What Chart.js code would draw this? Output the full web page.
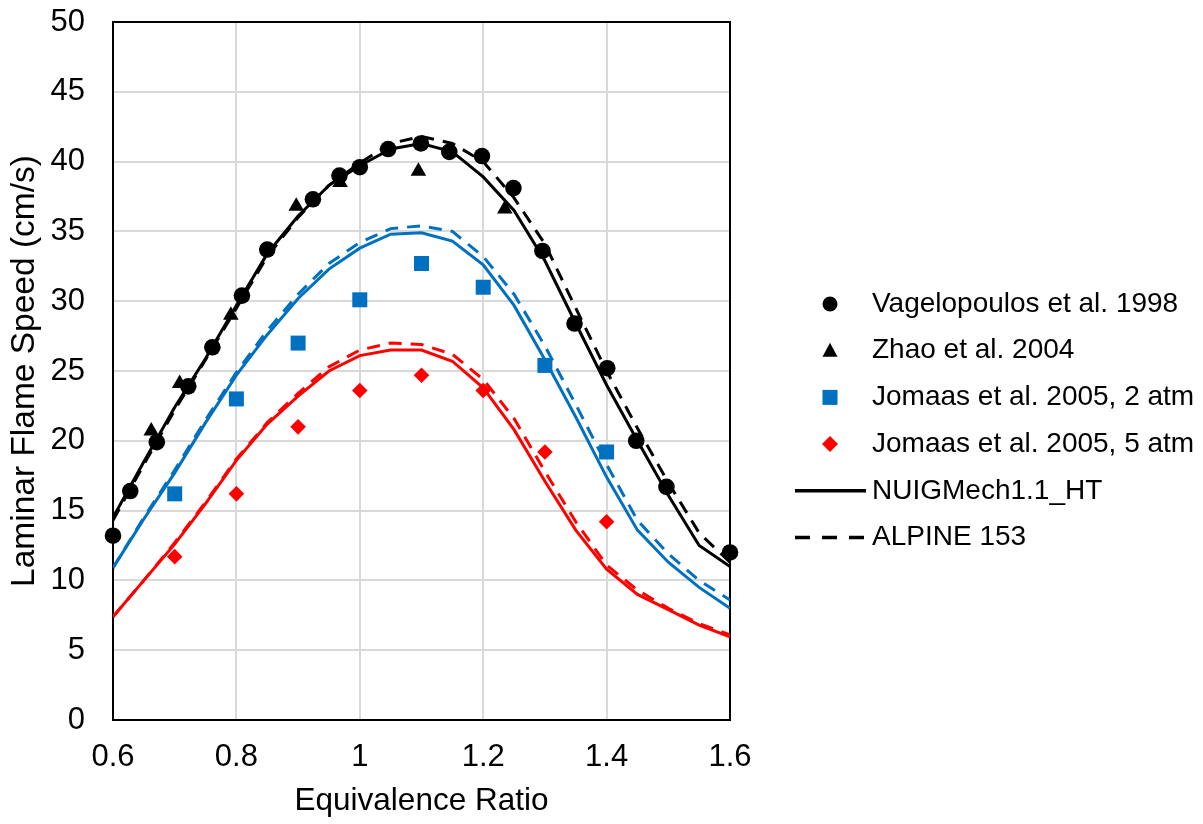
<!DOCTYPE html>
<html>
<head>
<meta charset="utf-8">
<script src="https://cdn.jsdelivr.net/npm/chart.js@4.4.1/dist/chart.umd.min.js"></script>
<style>
  html, body { margin: 0; padding: 0; background: #fff; }
  #wrap { width: 1203px; height: 824px; }
</style>
</head>
<body>
<div id="wrap"><canvas id="flameChart" width="1203" height="824"></canvas></div>
<script>
// Model grid (equivalence ratio)
const phiModel = [0.6, 0.65, 0.7, 0.75, 0.8, 0.85, 0.9, 0.95, 1.0, 1.05, 1.1,
                  1.15, 1.2, 1.25, 1.3, 1.35, 1.4, 1.45, 1.5, 1.55, 1.6];

// Model predictions (cm/s)
const nuig1atm   = [14.5, 18.5, 22.4, 25.9, 29.7, 33.4, 36.1, 38.3, 39.7, 40.9, 41.3,
                    40.7, 38.9, 36.5, 32.9, 28.4, 24.0, 20.0, 16.1, 12.5, 11.0];
const alpine1atm = [14.3, 18.3, 22.2, 25.8, 29.5, 33.2, 36.0, 38.3, 39.9, 41.3, 41.8,
                    41.3, 40.0, 37.4, 34.1, 29.5, 25.0, 20.9, 17.0, 13.4, 11.3];
const nuig2atm   = [10.9, 14.4, 17.7, 21.3, 24.7, 27.6, 30.2, 32.3, 33.8, 34.8, 34.9,
                    34.3, 32.6, 29.7, 25.8, 21.7, 17.4, 13.6, 11.3, 9.5, 8.0];
const alpine2atm = [10.9, 14.5, 17.9, 21.5, 24.9, 27.9, 30.5, 32.7, 34.2, 35.2, 35.4,
                    35.0, 33.2, 30.5, 26.8, 22.6, 18.3, 14.3, 11.9, 10.0, 8.6];
const nuig5atm   = [7.4, 10.0, 12.6, 15.5, 18.6, 21.2, 23.2, 25.0, 26.1, 26.5, 26.5,
                    25.7, 23.8, 20.8, 17.1, 13.6, 10.8, 9.0, 7.9, 6.8, 5.95];
const alpine5atm = [7.4, 10.0, 12.7, 15.6, 18.7, 21.3, 23.4, 25.3, 26.5, 27.0, 26.9,
                    26.2, 24.4, 21.6, 17.8, 14.2, 11.1, 9.3, 8.0, 6.9, 6.1];

// Experiments
const vagPhi = [0.6, 0.628, 0.671, 0.722, 0.761, 0.809, 0.85, 0.924, 0.967, 1.0, 1.046,
                1.099, 1.145, 1.198, 1.249, 1.296, 1.348, 1.401, 1.448, 1.497, 1.6];
const vagSl  = [13.2, 16.4, 19.9, 23.9, 26.7, 30.4, 33.7, 37.3, 39.0, 39.6, 40.9,
                41.3, 40.7, 40.4, 38.1, 33.6, 28.4, 25.2, 20.0, 16.7, 12.0];
const zhaoPhi = [0.662, 0.708, 0.791, 0.897, 0.968, 1.095, 1.235];
const zhaoSl  = [20.7, 24.1, 29.0, 36.8, 38.5, 39.3, 36.6];
const jom2Phi = [0.7, 0.8, 0.9, 1.0, 1.1, 1.2, 1.3, 1.4];
const jom2Sl  = [16.2, 23.0, 27.0, 30.1, 32.7, 31.0, 25.4, 19.2];
const jom5Phi = [0.7, 0.8, 0.9, 1.0, 1.1, 1.2, 1.3, 1.4];
const jom5Sl  = [11.7, 16.2, 21.0, 23.6, 24.7, 23.6, 19.2, 14.2];

const xTicksMin = 0.6, xTicksMax = 1.6, xStep = 0.2;
const yTicksMin = 0, yTicksMax = 50, yStep = 5;

const BLACK = '#000000', BLUE = '#0070c0', RED = '#ff0000';
const FONT = '"Liberation Sans", Arial, Helvetica, sans-serif';
const DASH = [13, 9];

function pts(xs, ys) { return xs.map((x, i) => ({ x: x, y: ys[i] })); }

function markerSet(label, xs, ys, style, color, r) {
  return {
    type: 'scatter', label: label, data: pts(xs, ys),
    pointStyle: style, pointRadius: r, pointHoverRadius: r,
    backgroundColor: color, borderColor: color, borderWidth: 0,
    showLine: false, clip: false
  };
}
function modelSet(label, ys, color, dashed) {
  return {
    type: 'line', label: label, data: pts(phiModel, ys),
    borderColor: color, borderWidth: 3, borderDash: dashed ? DASH : [],
    pointRadius: 0, fill: false, tension: 0
  };
}

// legend entries drawn by hand so it matches the Excel layout
const legendItems = [
  { text: 'Vagelopoulos et al. 1998', kind: 'circle', color: BLACK },
  { text: 'Zhao et al. 2004', kind: 'triangle', color: BLACK },
  { text: 'Jomaas et al. 2005, 2 atm', kind: 'rect', color: BLUE },
  { text: 'Jomaas et al. 2005, 5 atm', kind: 'rectRot', color: RED },
  { text: 'NUIGMech1.1_HT', kind: 'solid', color: BLACK },
  { text: 'ALPINE 153', kind: 'dash', color: BLACK }
];

const legendPlugin = {
  id: 'excelLegend',
  afterDraw(chart) {
    const ctx = chart.ctx;
    const x0 = 830, top = 304, gap = 46.7;
    ctx.save();
    ctx.font = '28px ' + FONT;
    ctx.textBaseline = 'middle';
    ctx.textAlign = 'left';
    legendItems.forEach((it, i) => {
      const y = top + i * gap;
      ctx.fillStyle = it.color;
      ctx.strokeStyle = it.color;
      ctx.beginPath();
      if (it.kind === 'circle') {
        ctx.arc(x0, y, 7.5, 0, Math.PI * 2); ctx.fill();
      } else if (it.kind === 'triangle') {
        ctx.moveTo(x0, y - 8); ctx.lineTo(x0 + 7.5, y + 6); ctx.lineTo(x0 - 7.5, y + 6);
        ctx.closePath(); ctx.fill();
      } else if (it.kind === 'rect') {
        ctx.rect(x0 - 7.5, y - 7.5, 15, 15); ctx.fill();
      } else if (it.kind === 'rectRot') {
        ctx.moveTo(x0, y - 8); ctx.lineTo(x0 + 8, y); ctx.lineTo(x0, y + 8); ctx.lineTo(x0 - 8, y);
        ctx.closePath(); ctx.fill();
      } else {
        ctx.lineWidth = 3.5;
        ctx.setLineDash(it.kind === 'dash' ? [15, 12] : []);
        ctx.moveTo(795, y); ctx.lineTo(866, y); ctx.stroke();
        ctx.setLineDash([]);
      }
      ctx.fillStyle = '#000';
      ctx.fillText(it.text, 872, y);
    });
    ctx.restore();
  }
};

const frame = {
  id: 'plotFrame',
  beforeDatasetsDraw(chart) {
    const a = chart.chartArea, ctx = chart.ctx;
    ctx.save();
    ctx.strokeStyle = '#000';
    ctx.lineWidth = 2;
    ctx.strokeRect(a.left, a.top, a.right - a.left, a.bottom - a.top);
    ctx.restore();
  }
};

new Chart(document.getElementById('flameChart'), {
  type: 'scatter',
  data: {
    datasets: [
      markerSet('Vagelopoulos et al. 1998', vagPhi, vagSl, 'circle', BLACK, 8.3),
      markerSet('Zhao et al. 2004', zhaoPhi, zhaoSl, 'triangle', BLACK, 9),
      markerSet('Jomaas et al. 2005, 2 atm', jom2Phi, jom2Sl, 'rect', BLUE, 10.6),
      markerSet('Jomaas et al. 2005, 5 atm', jom5Phi, jom5Sl, 'rectRot', RED, 7.8),
      modelSet('NUIGMech1.1_HT', nuig1atm, BLACK, false),
      modelSet('ALPINE 153', alpine1atm, BLACK, true),
      modelSet('NUIGMech1.1_HT 2 atm', nuig2atm, BLUE, false),
      modelSet('ALPINE 153 2 atm', alpine2atm, BLUE, true),
      modelSet('NUIGMech1.1_HT 5 atm', nuig5atm, RED, false),
      modelSet('ALPINE 153 5 atm', alpine5atm, RED, true)
    ]
  },
  options: {
    responsive: false,
    animation: false,
    layout: { padding: { left: 0, right: 473, top: 22, bottom: 0 } },
    plugins: { legend: { display: false }, tooltip: { enabled: false } },
    scales: {
      x: {
        type: 'linear', min: xTicksMin, max: xTicksMax,
        ticks: {
          stepSize: xStep, padding: 19, color: '#000',
          font: { family: FONT, size: 31 },
          callback: v => Number(v.toFixed(1)).toString()
        },
        grid: { color: '#d9d9d9', lineWidth: 2, drawTicks: false },
        border: { display: false },
        title: { display: true, text: 'Equivalence Ratio', color: '#000',
                 font: { family: FONT, size: 31.5 }, padding: { top: 0, bottom: 4 } },
        afterFit: s => { s.height = 104; s.paddingLeft = 0; s.paddingRight = 0; }
      },
      y: {
        type: 'linear', min: yTicksMin, max: yTicksMax,
        ticks: { stepSize: yStep, padding: 28, color: '#000', font: { family: FONT, size: 31 } },
        grid: { color: '#d9d9d9', lineWidth: 2, drawTicks: false },
        border: { display: false },
        title: { display: true, text: 'Laminar Flame Speed (cm/s)', color: '#000',
                 font: { family: FONT, size: 33.5 }, padding: { top: 5, bottom: 0 } },
        afterFit: s => { s.width = 113; s.paddingTop = 0; s.paddingBottom = 0; }
      }
    }
  },
  plugins: [frame, legendPlugin]
});
</script>
</body>
</html>
